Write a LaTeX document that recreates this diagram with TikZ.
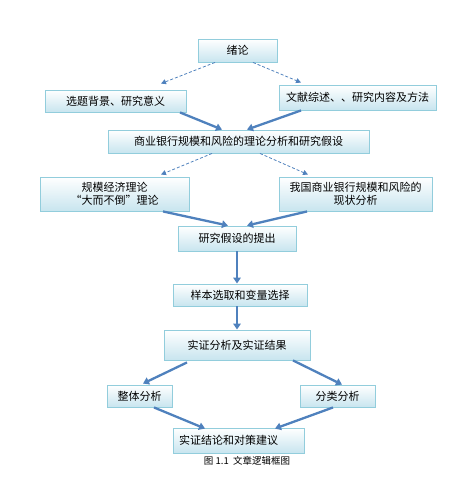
\documentclass[tikz,border=0pt]{standalone}
\usepackage{fontspec}
\setmainfont{Noto Sans CJK SC}
\usetikzlibrary{arrows.meta,shadows,calc}
\definecolor{boxborder}{RGB}{146,205,220}
\definecolor{boxbottom}{RGB}{200,229,239}
\definecolor{arrowblue}{RGB}{79,129,189}
\tikzset{
  box/.style={draw=boxborder, line width=0.9pt, top color=white, bottom color=boxbottom,
    drop shadow={shadow xshift=1pt, shadow yshift=-1pt, opacity=0.25},
    font=\fontsize{11}{13.5}\selectfont, inner sep=0pt, align=center},
  solidarrow/.style={draw=arrowblue, line width=2.3pt, -{Triangle[width=7.5pt,length=6pt]}},
  dasharrow/.style={draw=arrowblue, line width=0.8pt, dash pattern=on 3pt off 2pt, -{Triangle[width=5pt,length=5pt]}}
}
\begin{document}
\begin{tikzpicture}[x=1pt,y=-1pt]
\useasboundingbox (0,0) rectangle (475,479);
\node[box, minimum width=79pt, minimum height=23pt] (a) at (237.5,50.5) {绪论};
\node[box, minimum width=141pt, minimum height=22pt] (b) at (115.5,101) {选题背景、研究意义};
\node[box, minimum width=157pt, minimum height=25pt] (c) at (357.5,97.5) {文献综述、、研究内容及方法};
\node[box, minimum width=261pt, minimum height=23pt] (d) at (238.5,141.5) {商业银行规模和风险的理论分析和研究假设};
\node[box, minimum width=149pt, minimum height=34pt] (e) at (114.5,194) {规模经济理论\\“大而不倒”理论};
\node[box, minimum width=153pt, minimum height=34pt] (f) at (355.5,194) {我国商业银行规模和风险的\\现状分析};
\node[box, minimum width=118pt, minimum height=25pt] (g) at (237,238.5) {研究假设的提出};
\node[box, minimum width=134pt, minimum height=22pt] (h) at (240,295) {样本选取和变量选择};
\node[box, minimum width=146pt, minimum height=30pt] (i) at (237,345) {实证分析及实证结果};
\node[box, minimum width=65pt, minimum height=22pt] (j) at (139.5,396) {整体分析};
\node[box, minimum width=75pt, minimum height=22pt] (k) at (337.5,396) {分类分析};
\node[box, minimum width=131pt, minimum height=25pt, text width=119pt, inner xsep=6pt, align=left] (l) at (238.5,440.5) {实证结论和对策建议};
\node[font=\fontsize{9.5}{11}\selectfont] (cap) at (247,461) {图 1.1\ \ 文章逻辑框图};

\draw[dasharrow] ([xshift=-22.5pt]a.south) -- ([xshift=45.5pt,yshift=6pt]b.north);
\draw[dasharrow] ([xshift=15.5pt]a.south) -- ([xshift=-56.5pt,yshift=2pt]c.north);
\draw[solidarrow] ([xshift=64.5pt]b.south) -- ([xshift=-16.5pt]d.north);
\draw[solidarrow] ([xshift=-56.5pt]c.south) -- ([xshift=8.5pt]d.north);
\draw[dasharrow] ([xshift=-26.5pt]d.south) -- ([xshift=46.5pt,yshift=2pt]e.north);
\draw[dasharrow] ([xshift=21.5pt]d.south) -- ([xshift=-47.5pt,yshift=2pt]f.north);
\draw[solidarrow] ([xshift=48.5pt]e.south) -- ([xshift=-9pt]g.north);
\draw[solidarrow] ([xshift=-48.5pt]f.south) -- ([xshift=10pt]g.north);
\draw[solidarrow] (g.south) -- (g.south |- h.north);
\draw[solidarrow] (h.south -| i.north) -- (i.north);
\draw[solidarrow] ([xshift=-50pt,yshift=-2pt]i.south) -- ([xshift=3.5pt,yshift=1pt]j.north);
\draw[solidarrow] ([xshift=56pt]i.south) -- ([xshift=4.5pt]k.north);
\draw[solidarrow] ([xshift=14.5pt]j.south) -- ([xshift=-33.5pt,yshift=-1pt]l.north);
\draw[solidarrow] ([xshift=-4.5pt]k.south) -- ([xshift=36.5pt,yshift=-1pt]l.north);
\end{tikzpicture}
\end{document}
